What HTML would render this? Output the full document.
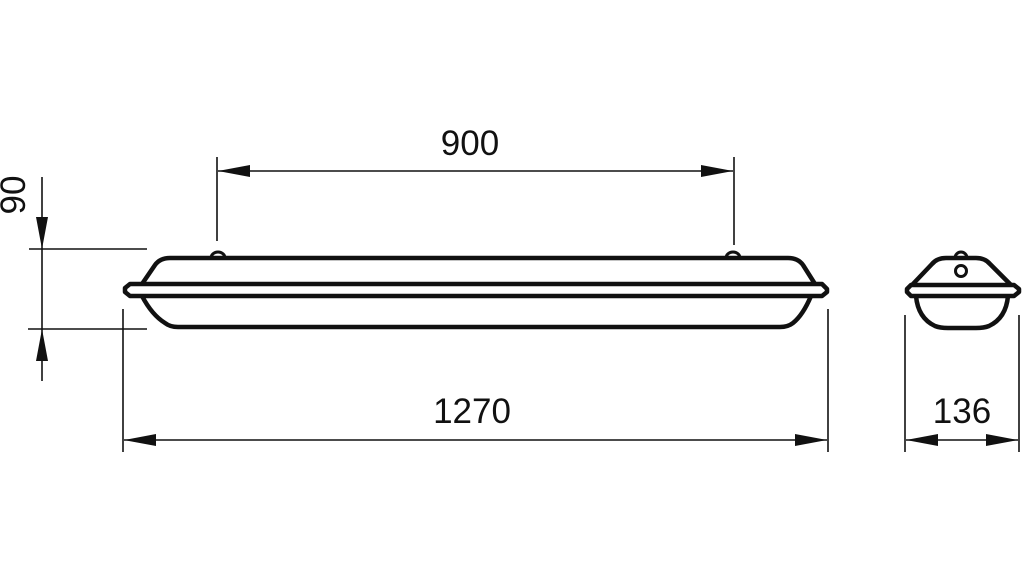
<!DOCTYPE html>
<html><head><meta charset="utf-8"><style>
html,body{margin:0;padding:0;background:#fff;}
svg{display:block}
text{font-family:"Liberation Sans",sans-serif;font-size:35px;fill:#111;}
</style></head><body>
<svg width="1024" height="581" viewBox="0 0 1024 581" xmlns="http://www.w3.org/2000/svg">
<defs>
<marker id="a" viewBox="0 0 10 10" refX="10" refY="5" markerWidth="32" markerHeight="12" markerUnits="userSpaceOnUse" orient="auto-start-reverse" preserveAspectRatio="none">
<path d="M0,0 L10,5 L0,10 z" fill="#111"/></marker>
</defs>
<g stroke="#111" stroke-width="1.6" fill="none">
<line x1="217" y1="157" x2="217" y2="241"/>
<line x1="734" y1="157" x2="734" y2="245"/>
<line x1="218" y1="171" x2="733" y2="171" marker-start="url(#a)" marker-end="url(#a)"/>
<line x1="29" y1="249" x2="147" y2="249"/>
<line x1="28" y1="329" x2="147" y2="329"/>
<line x1="42" y1="177" x2="42" y2="249" marker-end="url(#a)"/>
<line x1="42" y1="249" x2="42" y2="329"/>
<line x1="42" y1="381" x2="42" y2="329" marker-end="url(#a)"/>
<line x1="123" y1="309" x2="123" y2="452"/>
<line x1="828" y1="309" x2="828" y2="452"/>
<line x1="124" y1="440" x2="827" y2="440" marker-start="url(#a)" marker-end="url(#a)"/>
<line x1="905" y1="315" x2="905" y2="452"/>
<line x1="1019" y1="315" x2="1019" y2="452"/>
<line x1="906" y1="440" x2="1018" y2="440" marker-start="url(#a)" marker-end="url(#a)"/>
</g>
<g stroke="#111" stroke-width="4.5" fill="none" stroke-linejoin="round">
<path d="M211,258 A7,6 0 0 1 225,258" stroke-width="3"/>
<path d="M726,258 A7,6 0 0 1 740,258" stroke-width="3"/>
<path d="M142,284 L155,265 Q160,258 170,258 L788,258 Q798,258 803,265 L815,284"/>
<path d="M130,284 L822,284 L827,289 L827,292 L822,296 L130,296 L125,292 L125,288 Z"/>
<path d="M142,296 Q152,315 165,323 Q170,327 178,327 L780,327 Q788,327 793,323 Q803,315 811,296"/>
<path d="M955,258 A6,6 0 0 1 967,258" stroke-width="3"/>
<circle cx="961" cy="271" r="5.5" stroke-width="3"/>
<path d="M912,285 L932,264 Q937,258 946,258 L976,258 Q985,258 990,264 L1011,285"/>
<path d="M911,285 L1014,285 L1019,289 L1019,292 L1014,296 L911,296 L907,292 L907,289 Z"/>
<path d="M916,296 Q918,318 935,326 Q940,328 948,328 L976,328 Q984,328 989,326 Q1006,318 1008,296"/>
</g>
<text x="470" y="155" text-anchor="middle">900</text>
<text x="472" y="423" text-anchor="middle">1270</text>
<text x="962" y="423" text-anchor="middle">136</text>
<text transform="translate(25,195) rotate(-90)" text-anchor="middle">90</text>
</svg>
</body></html>
